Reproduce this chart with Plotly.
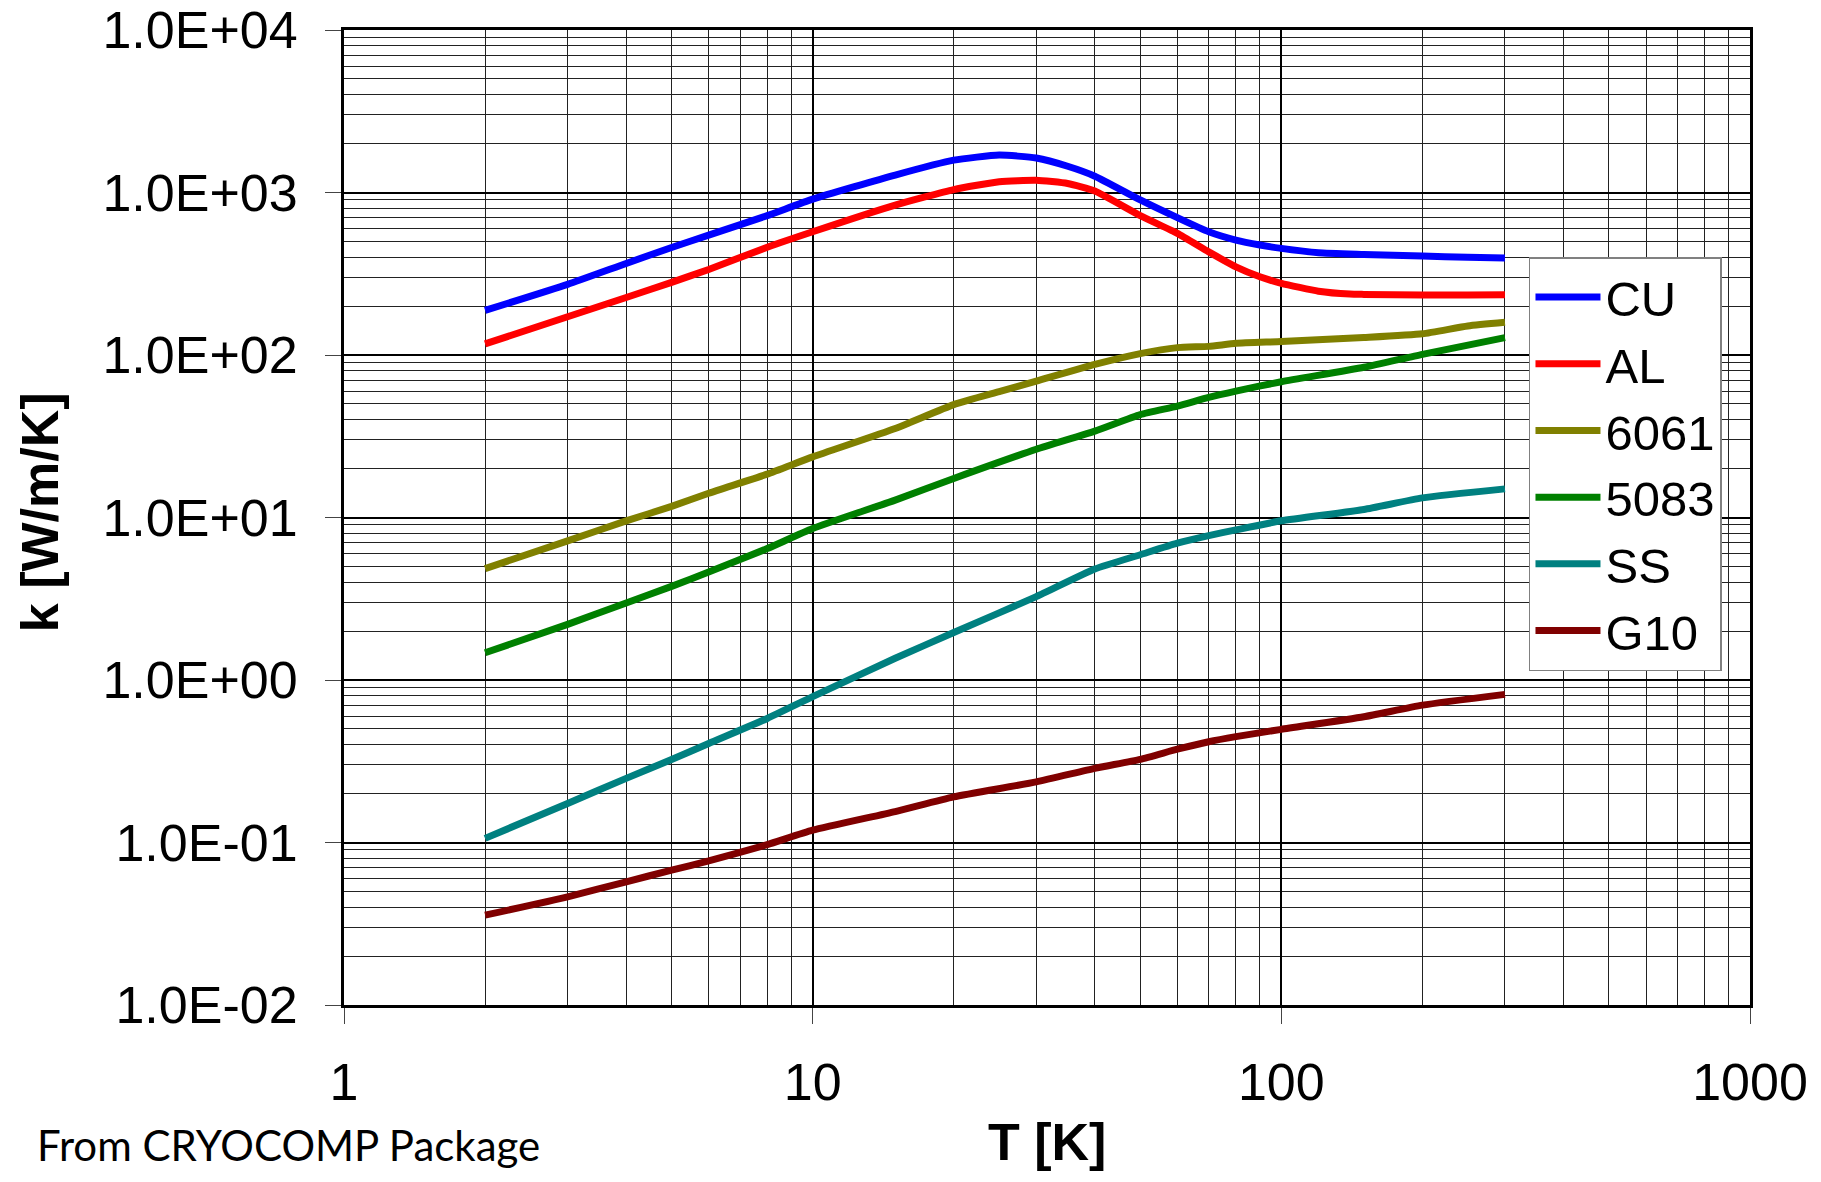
import plotly.graph_objects as go

# ---- data ----
T_CU = [2, 3, 4, 5, 6, 8, 10, 15, 20, 25, 30, 35, 40, 50, 60, 70, 80, 90, 100, 120, 150, 200, 250, 300]
k_CU = [188, 272, 366, 459, 547, 720, 910, 1280, 1581, 1700, 1630, 1450, 1260, 900, 700, 573, 509, 475, 453, 426, 416, 406, 400, 395]

T_AL = [2, 3, 4, 5, 6, 8, 10, 15, 20, 25, 30, 35, 40, 50, 60, 70, 80, 90, 100, 120, 140, 150, 200, 250, 300]
k_AL = [117, 172, 226, 280, 336, 460, 573, 836, 1042, 1164, 1190, 1135, 1020, 720, 560, 431, 349, 303, 276, 247, 237, 236, 234, 234, 235]

T_6061 = [2, 3, 4, 5, 6, 8, 10, 15, 20, 25, 30, 40, 50, 60, 70, 80, 100, 150, 200, 250, 300]
k_6061 = [4.85, 7.18, 9.53, 11.7, 14.1, 18.5, 23.6, 35.3, 49.5, 59.5, 69, 87.5, 102, 111, 113, 118, 121, 128, 135, 151, 159]

T_5083 = [2, 3, 4, 5, 6, 8, 10, 15, 20, 30, 40, 50, 60, 70, 80, 100, 150, 200, 300]
k_5083 = [1.47, 2.2, 2.98, 3.77, 4.62, 6.44, 8.55, 12.8, 17.4, 26.3, 34, 43, 48.5, 54.9, 60, 68.5, 84, 101, 128]

T_SS = [2, 3, 4, 5, 6, 8, 10, 15, 20, 30, 40, 50, 60, 70, 80, 100, 150, 200, 300]
k_SS = [0.106, 0.174, 0.248, 0.324, 0.407, 0.58, 0.79, 1.36, 1.96, 3.26, 4.82, 5.9, 6.95, 7.74, 8.39, 9.54, 11.2, 13.2, 15.0]

T_G10 = [2, 3, 4, 5, 6, 8, 10, 15, 20, 30, 40, 50, 60, 70, 80, 100, 150, 200, 300]
k_G10 = [0.0357, 0.0463, 0.0573, 0.0676, 0.077, 0.097, 0.119, 0.155, 0.191, 0.236, 0.286, 0.325, 0.375, 0.417, 0.448, 0.497, 0.594, 0.70, 0.816]

series_names = ["CU", "AL", "6061", "5083", "SS", "G10"]
series_T = [T_CU, T_AL, T_6061, T_5083, T_SS, T_G10]
series_k = [k_CU, k_AL, k_6061, k_5083, k_SS, k_G10]
series_colors = ["#0000FF", "#FF0000", "#808000", "#008000", "#008080", "#800000"]

x_tickvals = [1, 10, 100, 1000]
x_ticktext = ["1", "10", "100", "1000"]
y_tickvals = [1e-2, 1e-1, 1e0, 1e1, 1e2, 1e3, 1e4]
y_ticktext = ["1.0E-02", "1.0E-01", "1.0E+00", "1.0E+01", "1.0E+02", "1.0E+03", "1.0E+04"]

# ---- figure ----
FONT = "Liberation Sans, Arial, sans-serif"
fig = go.Figure()
for name, T, k, c in zip(series_names, series_T, series_k, series_colors):
    fig.add_trace(go.Scatter(x=T, y=k, name=name, mode="lines",
                             line=dict(color=c, width=7, shape="spline", smoothing=0.5)))

x_minor = [m * 10 ** d for d in range(0, 3) for m in range(2, 10)]
y_minor = [m * 10.0 ** d for d in range(-2, 4) for m in range(2, 10)]

axis_common = dict(
    showline=True, linecolor="black", linewidth=3, mirror=True,
    showgrid=True, gridcolor="black", gridwidth=2,
    ticks="outside", ticklen=16, tickwidth=1, tickcolor="#444",
    tickfont=dict(family=FONT, size=52, color="black"),
    zeroline=False, automargin=False, ticklabeloverflow="allow",
)

fig.update_xaxes(type="log", range=[0, 3], tickmode="array",
                 tickvals=x_tickvals, ticktext=x_ticktext,
                 ticklabelstandoff=14,
                 minor=dict(tickmode="array", tickvals=x_minor, showgrid=True,
                            gridcolor="#222", gridwidth=1, ticks=""),
                 **axis_common)
fig.update_yaxes(type="log", range=[-2, 4], tickmode="array",
                 tickvals=y_tickvals, ticktext=y_ticktext,
                 ticklabelstandoff=17,
                 minor=dict(tickmode="array", tickvals=y_minor, showgrid=True,
                            gridcolor="#222", gridwidth=1, ticks=""),
                 **axis_common)

fig.update_layout(
    width=1805, height=1166,
    margin=dict(l=336, r=63, t=22, b=169),
    paper_bgcolor="white", plot_bgcolor="white",
    showlegend=True,
    legend=dict(x=0.8428, y=0.767, xanchor="left", yanchor="top",
                bgcolor="white", bordercolor="#808080", borderwidth=1.5,
                font=dict(family=FONT, size=49, color="black"),
                itemwidth=65, tracegroupgap=0),
    annotations=[
        dict(text="<b>k [W/m/K]</b>", xref="paper", yref="paper",
             x=-0.2165, y=0.505, xanchor="center", yanchor="middle",
             textangle=-90, showarrow=False,
             font=dict(family=FONT, size=52, color="black")),
        dict(text="<b>T [K]</b>", xref="paper", yref="paper",
             x=0.5, y=-0.141, xanchor="center", yanchor="middle",
             showarrow=False, font=dict(family=FONT, size=52, color="black")),
        dict(text="From CRYOCOMP Package", xref="paper", yref="paper",
             x=-0.2198, y=-0.1713, xanchor="left", yanchor="bottom",
             showarrow=False, font=dict(family="Lato, sans-serif", size=42, color="black")),
    ],
)

fig.write_html("out.html")
